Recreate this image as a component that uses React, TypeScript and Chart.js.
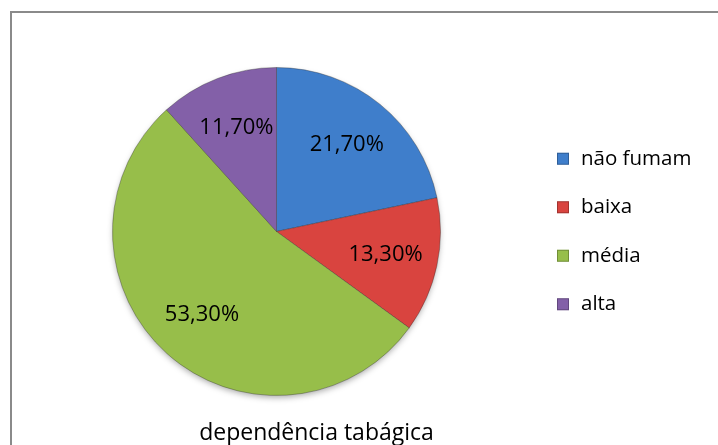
import React, { useEffect, useRef } from "react";
import { Chart, registerables } from "chart.js";

Chart.register(...registerables);

const categories = ["não fumam", "baixa", "média", "alta"];
const values = [21.7, 13.3, 53.3, 11.7];
const valueLabels = ["21,70%", "13,30%", "53,30%", "11,70%"];
const colors = ["#3f7ecb", "#d9443f", "#97be4a", "#8360a8"];
const chartTitle = "dependência tabágica";

const FONT = "'Open Sans', 'Noto Sans', sans-serif";

const shadowPlugin = {
  id: "pieShadow",
  beforeDatasetsDraw(chart: any) {
    const meta = chart.getDatasetMeta(0);
    const a = meta.data[0];
    if (!a) return;
    const p = a.getProps(["x", "y", "outerRadius"], true);
    const ctx = chart.ctx;
    ctx.save();
    ctx.shadowColor = "rgba(0,0,0,0.35)";
    ctx.shadowBlur = 6;
    ctx.shadowOffsetY = 3;
    ctx.fillStyle = "#ffffff";
    ctx.beginPath();
    ctx.arc(p.x, p.y, p.outerRadius - 1, 0, Math.PI * 2);
    ctx.fill();
    ctx.restore();
  },
};

const labelsPlugin = {
  id: "sliceLabels",
  afterDatasetsDraw(chart: any) {
    const ctx = chart.ctx;
    const meta = chart.getDatasetMeta(0);
    ctx.save();
    ctx.font = `22px ${FONT}`;
    ctx.fillStyle = "#000";
    ctx.textAlign = "center";
    ctx.textBaseline = "middle";
    meta.data.forEach((arc: any, i: number) => {
      const p = arc.getProps(["x", "y", "startAngle", "endAngle", "outerRadius"], true);
      const mid = (p.startAngle + p.endAngle) / 2;
      const r = p.outerRadius * 0.68;
      ctx.fillText(valueLabels[i], p.x + Math.cos(mid) * r, p.y + Math.sin(mid) * r);
    });
    ctx.restore();
  },
};

const legendPlugin = {
  id: "sideLegend",
  afterDraw(chart: any) {
    const ctx = chart.ctx;
    const area = chart.chartArea;
    const labels: string[] = chart.data.labels;
    const bg: string[] = chart.data.datasets[0].backgroundColor;
    const spacing = 48.5;
    const cy = (area.top + area.bottom) / 2;
    const startY = cy - (spacing * (labels.length - 1)) / 2;
    ctx.save();
    ctx.font = `20.5px ${FONT}`;
    ctx.textBaseline = "middle";
    ctx.textAlign = "left";
    labels.forEach((lab, i) => {
      const y = startY + i * spacing;
      const bx = area.right + 116;
      ctx.fillStyle = bg[i];
      ctx.fillRect(bx, y - 6, 12, 12);
      ctx.strokeStyle = "rgba(0,0,0,0.25)";
      ctx.lineWidth = 1;
      ctx.strokeRect(bx + 0.5, y - 5.5, 11, 11);
      ctx.fillStyle = "#000";
      ctx.fillText(lab, bx + 24, y);
    });
    ctx.font = `23px ${FONT}`;
    ctx.textAlign = "center";
    ctx.fillText(chartTitle, (area.left + area.right) / 2 + 40, 433);
    ctx.restore();
  },
};

export default function App() {
  const ref = useRef<HTMLCanvasElement | null>(null);
  useEffect(() => {
    if (!ref.current) return;
    const chart = new Chart(ref.current, {
      type: "pie",
      data: {
        labels: categories,
        datasets: [
          {
            data: values,
            backgroundColor: colors,
            borderColor: "rgba(40,40,40,0.35)",
            borderWidth: 1,
          },
        ],
      },
      options: {
        responsive: false,
        animation: false,
        rotation: 0,
        layout: { padding: { left: 112, top: 67, right: 277, bottom: 49 } },
        plugins: {
          legend: { display: false },
          title: { display: false },
          tooltip: { enabled: false },
        },
      },
      plugins: [shadowPlugin, labelsPlugin, legendPlugin],
    });
    return () => chart.destroy();
  }, []);

  return (
    <div style={{ position: "absolute", left: 0, top: 0, width: 718, height: 445, background: "#fff", overflow: "hidden" }}>
      <div
        style={{
          position: "absolute",
          left: 10,
          top: 11,
          width: 720,
          height: 450,
          border: "2px solid #8a8a8a",
          boxSizing: "border-box",
        }}
      />
      <canvas ref={ref} width={718} height={445} style={{ position: "absolute", left: 0, top: 0 }} />
    </div>
  );
}
